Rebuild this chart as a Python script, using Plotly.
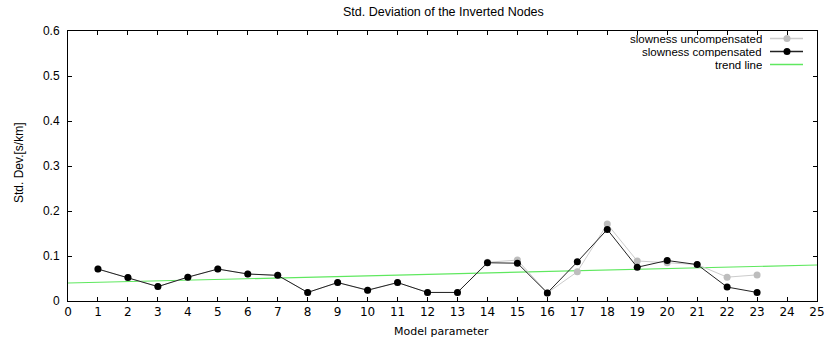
import plotly.graph_objects as go

# Model parameter index
params = list(range(1, 24))

# Standard deviation of inverted nodes [s/km]
uncompensated = [0.071, 0.052, 0.032, 0.053, 0.071, 0.060, 0.057, 0.019, 0.041, 0.024,
                 0.041, 0.019, 0.019, 0.086, 0.091, 0.018, 0.065, 0.171, 0.089, 0.085,
                 0.081, 0.053, 0.058]
compensated = [0.071, 0.052, 0.032, 0.053, 0.071, 0.060, 0.057, 0.019, 0.041, 0.024,
               0.041, 0.019, 0.019, 0.085, 0.084, 0.018, 0.087, 0.159, 0.075, 0.090,
               0.081, 0.031, 0.019]

# Linear trend line end points
trend_x = [0, 25]
trend_y = [0.040, 0.080]

x_ticks = list(range(0, 26))
y_ticks = [0, 0.1, 0.2, 0.3, 0.4, 0.5, 0.6]
y_tick_text = ["0", "0.1", "0.2", "0.3", "0.4", "0.5", "0.6"]

GRAY = "#bdbdbd"
BLACK = "#000000"
GREEN = "#5fe85f"

W, H = 827, 342
ML, MR, MT, MB = 68, 10, 31, 41
PW, PH = W - ML - MR, H - MT - MB


def px(xp):
    return (xp - ML) / PW


def py(yp):
    return (H - MB - yp) / PH


fig = go.Figure()
fig.add_trace(go.Scatter(x=trend_x, y=trend_y, mode="lines",
                         line=dict(color=GREEN, width=1.2), showlegend=False))
fig.add_trace(go.Scatter(x=params, y=uncompensated, mode="lines+markers",
                         line=dict(color="#cccccc", width=1),
                         marker=dict(color=GRAY, size=7), showlegend=False))
fig.add_trace(go.Scatter(x=params, y=compensated, mode="lines+markers",
                         line=dict(color="#222222", width=1),
                         marker=dict(color=BLACK, size=7), showlegend=False))

# Key in the upper right: text, then a line sample
key = [("slowness uncompensated", "#cccccc", GRAY, 38.5),
       ("slowness compensated", "#222222", BLACK, 51.5),
       ("trend line", GREEN, None, 64.5)]
annotations = []
shapes = []
for label, lcol, mcol, yrow in key:
    annotations.append(dict(text=label, x=px(763), y=py(yrow), xref="paper", yref="paper",
                            xanchor="right", yanchor="middle", showarrow=False,
                            height=11, borderpad=0,
                            font=dict(family="Liberation Sans", size=11.5, color="black")))
    shapes.append(dict(type="line", xref="paper", yref="paper",
                       x0=px(770), x1=px(803), y0=py(yrow), y1=py(yrow),
                       line=dict(color=lcol, width=1.4)))
    if mcol:
        shapes.append(dict(type="circle", xref="paper", yref="paper",
                           x0=px(783.5), x1=px(790.5), y0=py(yrow + 3.5), y1=py(yrow - 3.5),
                           fillcolor=mcol, line=dict(color=mcol, width=0)))

annotations.append(dict(text="Std. Deviation of the Inverted Nodes", x=px(443), y=py(12),
                        xref="paper", yref="paper", showarrow=False,
                        xanchor="center", yanchor="middle",
                        font=dict(family="Liberation Sans", size=12.5, color="black")))
annotations.append(dict(text="Model parameter", x=px(441), y=py(331), xref="paper", yref="paper",
                        showarrow=False, xanchor="center", yanchor="middle",
                        font=dict(family="DejaVu Sans", size=11, color="black")))
annotations.append(dict(text="Std. Dev.[s/km]", x=px(19), y=py(163), xref="paper", yref="paper",
                        showarrow=False, xanchor="center", yanchor="middle", textangle=-90,
                        font=dict(family="Liberation Sans", size=12, color="black")))

fig.update_layout(
    width=W, height=H,
    margin=dict(l=ML, r=MR, t=MT, b=MB, autoexpand=False),
    paper_bgcolor="white", plot_bgcolor="white",
    showlegend=False,
    annotations=annotations,
    shapes=shapes,
    xaxis=dict(range=[0, 25], tickmode="array", tickvals=x_ticks, automargin=False,
               ticks="inside", ticklen=4, tickcolor="black", tickwidth=1,
               showline=True, linecolor="black", linewidth=1, mirror="allticks",
               showgrid=False, zeroline=False,
               tickfont=dict(family="DejaVu Sans", size=12, color="black")),
    yaxis=dict(range=[0, 0.6], tickmode="array", tickvals=y_ticks, ticktext=y_tick_text,
               automargin=False,
               ticks="inside", ticklen=4, tickcolor="black", tickwidth=1,
               showline=True, linecolor="black", linewidth=1, mirror="allticks",
               showgrid=False, zeroline=False, ticklabelstandoff=5,
               tickfont=dict(family="Liberation Sans", size=12, color="black")),
)

fig.write_html("out.html")
